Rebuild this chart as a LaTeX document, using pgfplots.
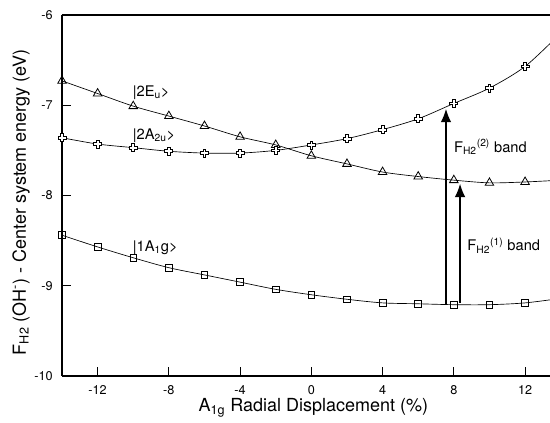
\documentclass[border=0pt]{standalone}
\usepackage{fontspec}
\setmainfont{TeX Gyre Heros}
\usepackage{pgfplots}
\pgfplotsset{compat=1.18}
\usetikzlibrary{arrows.meta}

% open "+" marker as in the scanned figure
\pgfdeclareplotmark{opencross}{%
  \pgfpathmoveto{\pgfqpoint{-0.35\pgfplotmarksize}{\pgfplotmarksize}}%
  \pgfpathlineto{\pgfqpoint{0.35\pgfplotmarksize}{\pgfplotmarksize}}%
  \pgfpathlineto{\pgfqpoint{0.35\pgfplotmarksize}{0.35\pgfplotmarksize}}%
  \pgfpathlineto{\pgfqpoint{\pgfplotmarksize}{0.35\pgfplotmarksize}}%
  \pgfpathlineto{\pgfqpoint{\pgfplotmarksize}{-0.35\pgfplotmarksize}}%
  \pgfpathlineto{\pgfqpoint{0.35\pgfplotmarksize}{-0.35\pgfplotmarksize}}%
  \pgfpathlineto{\pgfqpoint{0.35\pgfplotmarksize}{-\pgfplotmarksize}}%
  \pgfpathlineto{\pgfqpoint{-0.35\pgfplotmarksize}{-\pgfplotmarksize}}%
  \pgfpathlineto{\pgfqpoint{-0.35\pgfplotmarksize}{-0.35\pgfplotmarksize}}%
  \pgfpathlineto{\pgfqpoint{-\pgfplotmarksize}{-0.35\pgfplotmarksize}}%
  \pgfpathlineto{\pgfqpoint{-\pgfplotmarksize}{0.35\pgfplotmarksize}}%
  \pgfpathlineto{\pgfqpoint{-0.35\pgfplotmarksize}{0.35\pgfplotmarksize}}%
  \pgfpathclose
  \pgfusepathqfillstroke
}

\pgfplotstableread{
x y
-14 -6.73
-12 -6.87
-10 -7.01
-8 -7.12
-6 -7.23
-4 -7.35
-2 -7.44
0 -7.56
2 -7.65
4 -7.74
6 -7.79
8 -7.83
10 -7.86
12 -7.85
14 -7.83
}\eu

\pgfplotstableread{
x y
-14 -7.36
-12 -7.43
-10 -7.47
-8 -7.51
-6 -7.53
-4 -7.53
-2 -7.50
0 -7.44
2 -7.37
4 -7.27
6 -7.15
8 -6.98
10 -6.81
12 -6.57
14 -6.20
}\atwou

\pgfplotstableread{
x y
-14 -8.44
-12 -8.57
-10 -8.69
-8 -8.80
-6 -8.88
-4 -8.96
-2 -9.04
0 -9.10
2 -9.15
4 -9.19
6 -9.20
8 -9.21
10 -9.21
12 -9.19
14 -9.14
}\aoneg

\begin{document}
\begin{tikzpicture}
\path[use as bounding box] (-46.5pt,-35.25pt) rectangle (366pt,282pt);
\begin{axis}[
    at={(0,0)}, anchor=south west,
    scale only axis,
    width=366pt, height=270.75pt,
    xmin=-14, xmax=13.4,
    ymin=-10, ymax=-6,
    axis x line=box, axis y line=left,
    axis line style={line width=1.1pt,-},
    xtick pos=bottom, ytick pos=left,
    tick align=inside,
    major tick length=6.75pt,
    tick style={line width=0.8pt, black},
    xtick={-12,-8,-4,0,4,8,12},
    xticklabels={-12,-8,-4,0,4,8,12},
    ytick={-10,-9,-8,-7,-6},
    yticklabels={-10,-9,-8,-7,-6},
    x tick label style={font=\fontsize{9.5}{10}\selectfont, yshift=-3.5pt},
    y tick label style={font=\fontsize{9.5}{10}\selectfont, xshift=-3.5pt},
    every axis x label/.style={at={(axis description cs:0.515,0)}, yshift=-24pt, anchor=center},
    every axis y label/.style={at={(axis description cs:0,0.5)}, xshift=-30.75pt, yshift=-5pt, rotate=90, anchor=center},
    label style={font=\fontsize{13.5}{15}\selectfont},
    xlabel={A\textsubscript{1g} Radial Displacement (\%)},
    ylabel={F\textsubscript{H2} (OH\textsuperscript{-}) - Center system energy (eV)},
    mark indices={1,2,3,4,5,6,7,8,9,10,11,12,13,14},
]
\addplot[black, line width=0.5pt, smooth, mark=triangle, mark size=3.7pt,
    mark options={fill=white, line width=0.6pt}] table {\eu};
\addplot[black, line width=0.5pt, smooth, mark=opencross, mark size=3.0pt,
    mark options={fill=white, line width=0.6pt}] table {\atwou};
\addplot[black, line width=0.5pt, smooth, mark=square, mark size=2.5pt,
    mark options={fill=white, line width=0.6pt}] table {\aoneg};

\addplot[black, line width=1.1pt, -{Latex[length=10pt,width=8pt]}] coordinates {(7.56,-9.20) (7.56,-7.04)};
\addplot[black, line width=1.1pt, -{Latex[length=10pt,width=8pt]}] coordinates {(8.35,-9.19) (8.35,-7.87)};

\node[anchor=base west, inner sep=0, font=\fontsize{11}{12}\selectfont] at (axis cs:-10.04,-6.90) {|2E\textsubscript{u}>};
\node[anchor=base west, inner sep=0, font=\fontsize{11}{12}\selectfont] at (axis cs:-10.04,-7.38) {|2A\textsubscript{2u}>};
\node[anchor=base west, inner sep=0, font=\fontsize{11}{12}\selectfont] at (axis cs:-10.04,-8.62) {|1A\textsubscript{1}g>};
\node[anchor=base west, inner sep=0, font=\fontsize{11}{12}\selectfont] at (axis cs:8.0,-7.52) {F\textsubscript{H2}\textsuperscript{(2)} band};
\node[anchor=base west, inner sep=0, font=\fontsize{11}{12}\selectfont] at (axis cs:8.75,-8.61) {F\textsubscript{H2}\textsuperscript{(1)} band};
\end{axis}
\end{tikzpicture}
\end{document}
